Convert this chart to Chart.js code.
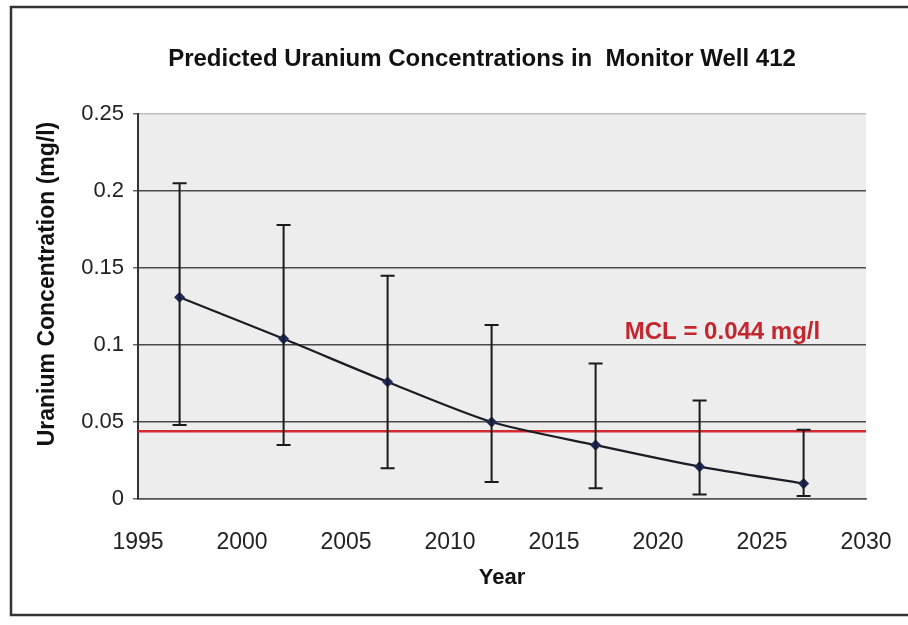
<!DOCTYPE html>
<html>
<head>
<meta charset="utf-8">
<script src="https://cdn.jsdelivr.net/npm/chart.js@4.4.1/dist/chart.umd.min.js"></script>
<style>
  html, body { margin: 0; padding: 0; background: #fff; }
  #wrap { width: 908px; height: 625px; position: relative; }
</style>
</head>
<body>
<div id="wrap"><canvas id="uraniumChart" width="908" height="625"></canvas></div>
<script>
    // chart values
    const years = [1997, 2002, 2007, 2012, 2017, 2022, 2027];
    const concentration = [0.131, 0.104, 0.076, 0.050, 0.035, 0.021, 0.010];
    const upperBound = [0.205, 0.178, 0.145, 0.113, 0.088, 0.064, 0.045];
    const lowerBound = [0.048, 0.035, 0.020, 0.011, 0.007, 0.003, 0.002];
    const mclValue = 0.044;
    const mclRange = [1995, 2030];
    const yTicks = [0, 0.05, 0.1, 0.15, 0.2, 0.25];
    const xTicks = [1995, 2000, 2005, 2010, 2015, 2020, 2025, 2030];
    const mclLabelAt = [2023.1, 0.108];

    const FONT = "'Liberation Sans', Arial, sans-serif";
    const TITLE = "Predicted Uranium Concentrations in  Monitor Well 412";
    const Y_TITLE = "Uranium Concentration (mg/l)";

    // page frame + grey plot area
    const backdrop = {
      id: "backdrop",
      beforeDraw(chart) {
        const ctx = chart.ctx;
        const a = chart.chartArea;
        ctx.save();
        ctx.fillStyle = "#ffffff";
        ctx.fillRect(0, 0, chart.width, chart.height);
        ctx.fillStyle = "#ededed";
        ctx.fillRect(a.left, a.top, a.right - a.left, a.bottom - a.top);
        ctx.strokeStyle = "#333";
        ctx.lineWidth = 2.5;
        ctx.beginPath();
        ctx.moveTo(chart.width + 5, 7);
        ctx.lineTo(11, 7);
        ctx.lineTo(11, 615);
        ctx.lineTo(chart.width + 5, 615);
        ctx.stroke();
        ctx.restore();
      },
    };

    // error bars, titles, MCL label
    const errorBars = {
      id: "errorBars",
      afterDatasetsDraw(chart) {
        const ctx = chart.ctx;
        const xs = chart.scales.x;
        const ys = chart.scales.y;
        ctx.save();
        ctx.strokeStyle = "#1a1a1a";
        ctx.lineWidth = 2;
        years.forEach((yr, i) => {
          const px = xs.getPixelForValue(yr);
          const top = ys.getPixelForValue(upperBound[i]);
          const bot = ys.getPixelForValue(lowerBound[i]);
          ctx.beginPath();
          ctx.moveTo(px, top);
          ctx.lineTo(px, bot);
          ctx.moveTo(px - 7, top);
          ctx.lineTo(px + 7, top);
          ctx.moveTo(px - 7, bot);
          ctx.lineTo(px + 7, bot);
          ctx.stroke();
        });
        ctx.textAlign = "center";
        ctx.textBaseline = "middle";
        ctx.fillStyle = "#c4262e";
        ctx.font = "bold 24px " + FONT;
        ctx.fillText(
          "MCL = 0.044 mg/l",
          xs.getPixelForValue(mclLabelAt[0]),
          ys.getPixelForValue(mclLabelAt[1])
        );
        ctx.fillStyle = "#111";
        ctx.font = "bold 24px " + FONT;
        ctx.fillText(TITLE, 482, 59);
        ctx.font = "bold 23px " + FONT;
        ctx.translate(48, 284);
        ctx.rotate(-Math.PI / 2);
        ctx.fillText(Y_TITLE, 0, 0);
        ctx.restore();
      },
    };

    const ctx = document.getElementById("uraniumChart").getContext("2d");
    const uraniumChart = new Chart(ctx, {
      type: "scatter",
      data: {
        datasets: [
          {
            label: "MCL",
            data: mclRange.map((x) => ({ x: x, y: mclValue })),
            showLine: true,
            borderColor: "#d42a33",
            borderWidth: 2.5,
            pointRadius: 0,
            order: 2,
          },
          {
            label: "Predicted",
            data: years.map((x, i) => ({ x: x, y: concentration[i] })),
            showLine: true,
            borderColor: "#1c1c24",
            borderWidth: 2.2,
            tension: 0.25,
            pointStyle: "rectRot",
            pointRadius: 4,
            pointBackgroundColor: "#1e2a5c",
            pointBorderColor: "#1e2a5c",
            order: 1,
          },
        ],
      },
      options: {
        responsive: false,
        animation: false,
        layout: {
          padding: { left: 22, right: 42, top: 114, bottom: 34 },
        },
        scales: {
          x: {
            type: "linear",
            min: 1995,
            max: 2030,
            afterBuildTicks: (s) => {
              s.ticks = xTicks.map((v) => ({ value: v }));
            },
            afterFit: (s) => {
              s.height = 92;
              s.paddingLeft = 0;
              s.paddingRight = 0;
            },
            grid: {
              display: false,
              drawTicks: false,
            },
            border: { display: true, color: "#555", width: 1.5 },
            ticks: {
              color: "#222",
              padding: 30,
              maxRotation: 0,
              font: { family: FONT, size: 23 },
              callback: (v) => String(v),
            },
            title: {
              display: true,
              text: "Year",
              color: "#111",
              font: { family: FONT, size: 22, weight: "bold" },
              padding: { top: 0, bottom: 0 },
            },
          },
          y: {
            min: 0,
            max: 0.25,
            afterBuildTicks: (s) => {
              s.ticks = yTicks.map((v) => ({ value: v }));
            },
            afterFit: (s) => {
              s.width = 116;
            },
            grid: {
              color: (c) => (c.tick && c.tick.value === 0.25 ? "#bdbdbd" : "#4a4a4a"),
              lineWidth: 1.5,
              tickLength: 5,
              tickColor: "#666",
            },
            border: { display: true, color: "#333", width: 2 },
            ticks: {
              color: "#222",
              padding: 9,
              font: { family: FONT, size: 22 },
              callback: (v) => String(+v.toFixed(2)),
            },
          },
        },
        plugins: {
          legend: { display: false },
          tooltip: { enabled: false },
          title: { display: false },
        },
      },
      plugins: [backdrop, errorBars],
    });
</script>
</body>
</html>
